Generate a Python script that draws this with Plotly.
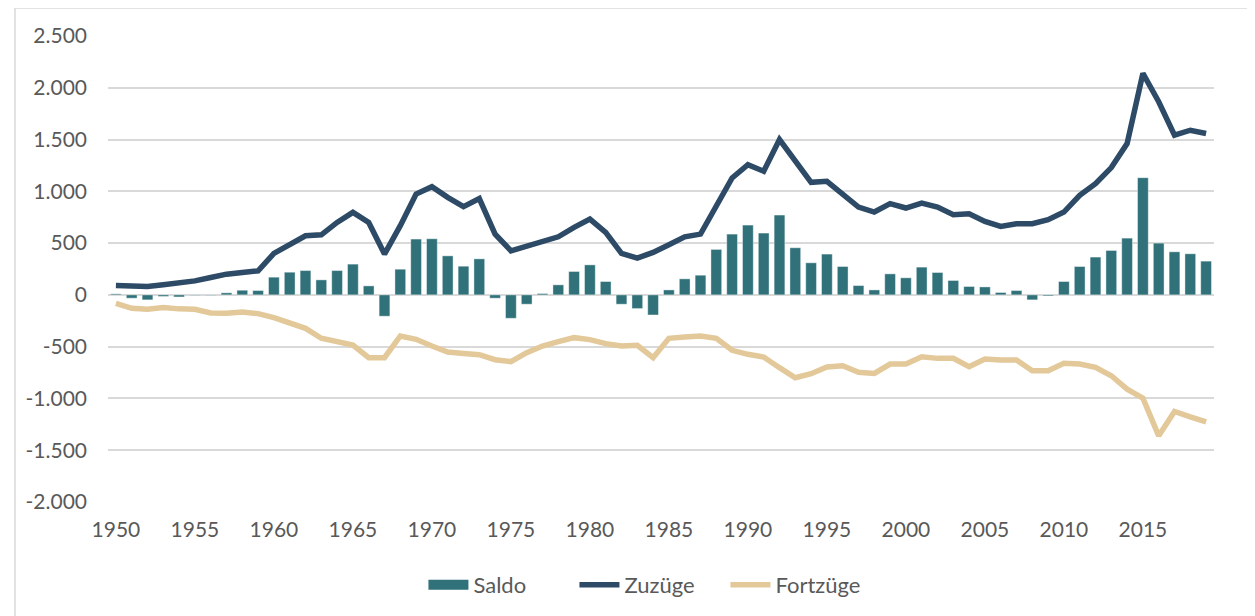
import plotly.graph_objects as go

years = list(range(1950, 2020))

saldo = [
    10, -32, -48, -15, -20, -5, -5, 20, 45, 42,
    171, 219, 235, 145, 235, 297, 87, -206, 248, 539,
    542, 377, 277, 348, -32, -226, -90, 13, 97, 226,
    290, 129, -90, -132, -194, 48, 155, 190, 439, 587,
    674, 597, 771, 455, 310, 394, 274, 90, 48, 203,
    165, 268, 216, 139, 81, 77, 23, 42, -48, -10,
    129, 274, 365, 429, 548, 1132, 500, 416, 397, 326,
]
zuzuege = [
    90, 80, 80, 97, 110, 135, 168, 200, 216, 232,
    400, 490, 571, 580, 700, 797, 700, 394, 668, 974,
    1045, 942, 852, 930, 587, 426, 474, 523, 561, 652,
    732, 603, 400, 355, 410, 484, 561, 587, 861, 1129,
    1258, 1194, 1500, 1297, 1087, 1097, 965, 848, 800, 881,
    839, 887, 848, 774, 784, 710, 661, 687, 687, 726,
    800, 961, 1074, 1229, 1461, 2139, 1865, 1542, 1590, 1558,
]
fortzuege = [
    -81, -129, -139, -123, -135, -139, -174, -177, -165, -181,
    -219, -268, -323, -419, -452, -484, -606, -606, -397, -429,
    -494, -552, -565, -578, -626, -645, -558, -494, -452, -413,
    -432, -471, -494, -487, -606, -419, -406, -397, -419, -535,
    -574, -600, -703, -800, -761, -697, -685, -748, -758, -668,
    -668, -597, -613, -613, -694, -619, -629, -629, -732, -732,
    -661, -668, -700, -781, -910, -997, -1361, -1126, -1178, -1226,
]

x_tickvals = list(range(1950, 2020, 5))
y_tickvals = [2500, 2000, 1500, 1000, 500, 0, -500, -1000, -1500, -2000]
y_ticktext = ["2.500", "2.000", "1.500", "1.000", "500", "0",
              "-500", "-1.000", "-1.500", "-2.000"]

TEXT = "#595959"
GRID = "#d9d9d9"
TEAL = "#31727a"

fig = go.Figure()
fig.add_trace(go.Bar(
    x=years, y=saldo, name="Saldo", showlegend=False,
    marker=dict(color=TEAL, line=dict(color="rgba(255,255,255,0.5)", width=0.8)),
))
# Legendeneintrag für die Säulen als breites Rechteck
fig.add_trace(go.Scatter(
    x=[None], y=[None], name="Saldo", mode="lines",
    line=dict(color=TEAL, width=14),
))
fig.add_trace(go.Scatter(
    x=years, y=zuzuege, name="Zuzüge", mode="lines",
    line=dict(color="#2d4a66", width=5.5),
))
fig.add_trace(go.Scatter(
    x=years, y=fortzuege, name="Fortzüge", mode="lines",
    line=dict(color="#e3c899", width=5.5),
))

# Rahmen des Diagrammbereichs (nur links/oben sichtbar)
fig.add_shape(type="rect", xref="paper", yref="paper",
              x0=-0.0841, x1=1.3, y0=-0.4, y1=1.0603,
              line=dict(color=GRID, width=1.5), layer="below")

fig.update_layout(
    width=1255, height=616,
    paper_bgcolor="white", plot_bgcolor="white",
    font=dict(family="Lato, Open Sans, sans-serif", size=21, color=TEXT),
    margin=dict(l=100, r=49, t=28, b=122, autoexpand=False),
    bargap=0.32,
    showlegend=True,
    legend=dict(orientation="h", x=0.49, xanchor="center", y=-0.178, yanchor="middle",
                font=dict(size=22, color=TEXT), itemwidth=40, entrywidth=96,
                traceorder="normal"),
    xaxis=dict(
        range=[1949.5, 2019.5], tickvals=x_tickvals, showgrid=False,
        zeroline=False, showline=False, ticks="", ticklabelstandoff=13,
        fixedrange=True,
    ),
    yaxis=dict(
        range=[-2000, 2500], tickvals=y_tickvals, ticktext=y_ticktext,
        showgrid=True, gridcolor=GRID, gridwidth=1.5,
        zeroline=True, zerolinecolor=GRID, zerolinewidth=1.5,
        showline=False, ticks="", ticklabelstandoff=20, fixedrange=True,
    ),
)

fig.write_html("out.html")
